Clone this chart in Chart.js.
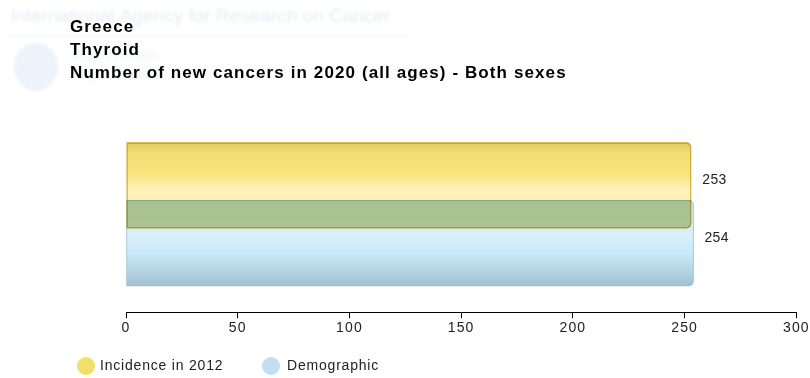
<!DOCTYPE html>
<html>
<head>
<meta charset="utf-8">
<title>Greece - Thyroid</title>
<script src="https://cdn.jsdelivr.net/npm/chart.js@4.4.1/dist/chart.umd.min.js"></script>
<style>
  html, body { margin: 0; padding: 0; background: #fff; }
  #wrap { width: 810px; height: 378px; position: relative; }
</style>
</head>
<body>
<div id="wrap"><canvas id="grafico"></canvas></div>
<script>
// Datos
const seriesNames = ['Incidence in 2012', 'Demographic'];
const values = [253, 254];
const rows = [0, 1];
const xTicks = [0, 50, 100, 150, 200, 250, 300];
const titleLines = ['Greece', 'Thyroid', 'Number of new cancers in 2020 (all ages) - Both sexes'];

// Colores de cada serie (degradado tipo cilindro)
const gradientStops = [
  [[0, '#e2c864'], [0.12, '#f3dc72'], [0.35, '#f9e27a'], [0.55, '#fff2bc'], [0.665, '#fff0b4'],
   [0.675, '#d6d99c'], [1, '#cfd394']],
  [[0, '#c4dfec'], [0.12, '#cce6f3'], [0.4, '#daf0fa'], [0.62, '#c9e8f8'], [0.85, '#b2d2e2'], [1, '#9fbfd0']]
];
const borderColors = ['#d6c05a', '#9dbccb'];
const legendColors = ['#f2df6a', '#c2def0'];

const font = 'Arial, "Liberation Sans", sans-serif';

function barFill(ctx) {
  const chart = ctx.chart;
  const ys = chart.scales.y;
  const stops = gradientStops[ctx.datasetIndex];
  if (!ys || ys.top === undefined) return stops[2][1];
  const c = ys.getPixelForValue(rows[ctx.datasetIndex]);
  const g = chart.ctx.createLinearGradient(0, c - 43, 0, c + 43);
  stops.forEach(s => g.addColorStop(s[0], s[1]));
  return g;
}

// Marca de agua de fondo (IARC / OMS)
const watermark = {
  id: 'watermark',
  beforeDraw(chart) {
    const c = chart.ctx;
    // el título (capa z = 0) usa letras más separadas
    c.letterSpacing = '1.1px';
    c.save();
    c.letterSpacing = '0px';
    c.filter = 'blur(1.5px)';
    c.fillStyle = 'rgba(195,215,238,0.45)';
    c.font = '19px ' + font;
    c.textBaseline = 'middle';
    c.fillText('International Agency for Research on Cancer', 10, 17);
    c.fillRect(10, 35, 395, 1);
    c.fillStyle = 'rgba(195,215,238,0.3)';
    c.beginPath();
    c.ellipse(36, 67, 22, 24, 0, 0, Math.PI * 2);
    c.fill();
    c.font = '15px ' + font;
    c.fillText('World Health', 72, 56);
    c.fillText('Organization', 72, 76);
    c.restore();
  }
};

// Valores al final de cada barra
const valueLabels = {
  id: 'valueLabels',
  afterDatasetsDraw(chart) {
    const c = chart.ctx;
    c.save();
    c.letterSpacing = '0.3px';
    c.font = '14px ' + font;
    c.fillStyle = '#222';
    c.textBaseline = 'middle';
    chart.data.datasets.forEach((ds, i) => {
      const el = chart.getDatasetMeta(i).data[0];
      c.fillText(String(values[i]), el.x + 11, el.y - 5);
    });
    c.restore();
    // el eje x (capa z = 1) se dibuja después
    c.letterSpacing = '0.2px';
  }
};

// Leyenda inferior
const legendBottom = {
  id: 'legendBottom',
  afterDraw(chart) {
    const c = chart.ctx;
    const items = [{ cx: 86, tx: 100 }, { cx: 271, tx: 287 }];
    c.save();
    c.letterSpacing = '0.8px';
    c.font = '14px ' + font;
    c.textBaseline = 'middle';
    seriesNames.forEach((name, i) => {
      c.fillStyle = legendColors[i];
      c.beginPath();
      c.arc(items[i].cx, 366, 9, 0, Math.PI * 2);
      c.fill();
      c.fillStyle = '#222';
      c.fillText(name, items[i].tx, 366);
    });
    c.restore();
  }
};

// La serie amarilla se multiplica sobre la azul (zona verde)
const blend = {
  id: 'blend',
  beforeDatasetDraw(chart, args) {
    if (args.index === 0) {
      chart.ctx.save();
      chart.ctx.globalCompositeOperation = 'multiply';
    }
  },
  afterDatasetDraw(chart, args) {
    if (args.index === 0) chart.ctx.restore();
  }
};

const datasets = seriesNames.map((name, i) => ({
  label: name,
  data: [{ x: values[i], y: rows[i] }],
  backgroundColor: barFill,
  borderColor: borderColors[i],
  borderWidth: 1,
  borderSkipped: false,
  borderRadius: { topLeft: 0, bottomLeft: 0, topRight: 5, bottomRight: 5 },
  barThickness: 86
}));

const config = {
  type: 'bar',
  data: { datasets: datasets },
  plugins: [watermark, blend, valueLabels, legendBottom],
  options: {
    indexAxis: 'y',
    responsive: true,
    maintainAspectRatio: false,
    animation: false,
    grouped: false,
    layout: { padding: { left: 70, right: 0, top: 12, bottom: 39 } },
    scales: {
      x: {
        type: 'linear',
        z: 1,
        min: 0,
        max: 300,
        afterBuildTicks(scale) { scale.ticks = xTicks.map(v => ({ value: v })); },
        grid: { drawOnChartArea: false, drawTicks: true, tickLength: 6, color: '#000' },
        border: { display: true, color: '#000', width: 1 },
        ticks: { color: '#222', padding: 2, font: { family: font, size: 14 } }
      },
      y: {
        type: 'linear',
        reverse: true,
        offset: false,
        min: -1.5,
        max: 2.2,
        grid: { display: false, offset: false },
        border: { display: false },
        ticks: { display: false },
        afterFit(scale) { scale.width = 56; }
      }
    },
    plugins: {
      title: {
        display: true,
        text: titleLines,
        align: 'start',
        color: '#000',
        font: { family: font, size: 17, weight: 'bold', lineHeight: 23 / 17 },
        padding: { top: 4, bottom: 14 }
      },
      legend: { display: false },
      tooltip: { enabled: false }
    }
  }
};

new Chart(document.getElementById('grafico').getContext('2d'), config);
</script>
</body>
</html>
